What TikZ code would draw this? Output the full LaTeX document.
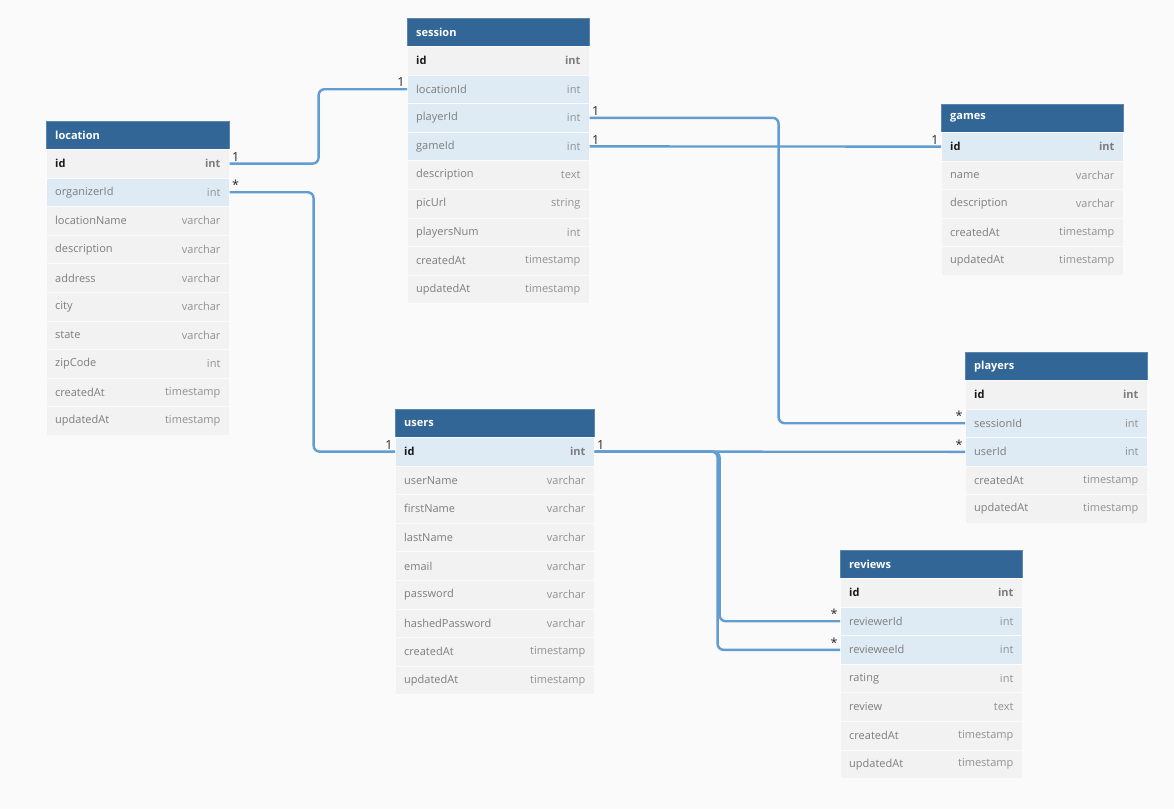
\documentclass[tikz,border=0pt]{standalone}
\usepackage{fontspec}
\setmainfont{Open Sans}
\usetikzlibrary{positioning}

\definecolor{hdblue}{RGB}{50,102,150}
\definecolor{rowgrey}{RGB}{242,242,242}
\definecolor{rowblue}{RGB}{222,235,244}
\definecolor{relblue}{RGB}{97,157,208}
\definecolor{txtgrey}{RGB}{125,125,125}
\definecolor{bggrey}{RGB}{250,250,250}

\tikzset{
  tblhead/.style={fill=hdblue, draw=hdblue!80!white, anchor=north west, minimum height=28pt, inner sep=0pt},
  tbltitle/.style={text=white, font=\bfseries\fontsize{11}{13}\selectfont, inner sep=0pt},
  tblrow/.style={draw=white!70!rowgrey, line width=0.6pt, anchor=north west, minimum height=28.6pt, inner sep=0pt},
  keyname/.style={text=black!90, font=\bfseries\fontsize{11}{13}\selectfont, inner sep=0pt},
  keytype/.style={text=txtgrey, font=\bfseries\fontsize{11}{13}\selectfont, inner sep=0pt},
  fieldname/.style={text=txtgrey, font=\fontsize{11}{13}\selectfont, inner sep=0pt},
  fieldtype/.style={text=txtgrey!85, font=\fontsize{11}{13}\selectfont, inner sep=0pt},
  rel/.style={draw=relblue, line width=2.4pt, rounded corners=6pt},
  card/.style={text=black!85, font=\fontsize{12.5}{14}\selectfont, inner sep=1.2pt}
}

\begin{document}
\begin{tikzpicture}[x=1pt,y=-1pt]
  \fill [bggrey] (0,0) rectangle (1174,809);
  \useasboundingbox (0,0) rectangle (1174,809);

  % session
  \node[tblhead, minimum width=182pt] (session) at (407,18) {};
  \node[tbltitle, right=9pt of session.west] {session};
  \node[tblrow, fill=rowgrey, minimum width=182pt] (session-id) at (407,46) {};
  \node[keyname, right=9pt of session-id.west] {id};
  \node[keytype, left=9pt of session-id.east] {int};
  \foreach \f/\t/\c [count=\i] in {locationId/int/rowblue, playerId/int/rowblue, gameId/int/rowblue,
      description/text/rowgrey, picUrl/string/rowgrey, playersNum/int/rowgrey,
      createdAt/timestamp/rowgrey, updatedAt/timestamp/rowgrey}{
    \node[tblrow, fill=\c, minimum width=182pt] (session-\f) at (407,{46+\i*28.6}) {};
    \node[fieldname, right=9pt of session-\f.west] {\f};
    \node[fieldtype, left=9pt of session-\f.east] {\t};
  }

  % location
  \node[tblhead, minimum width=183pt] (location) at (46,121) {};
  \node[tbltitle, right=9pt of location.west] {location};
  \node[tblrow, fill=rowgrey, minimum width=183pt] (location-id) at (46,149) {};
  \node[keyname, right=9pt of location-id.west] {id};
  \node[keytype, left=9pt of location-id.east] {int};
  \foreach \f/\t/\c [count=\i] in {organizerId/int/rowblue, locationName/varchar/rowgrey,
      description/varchar/rowgrey, address/varchar/rowgrey, city/varchar/rowgrey,
      state/varchar/rowgrey, zipCode/int/rowgrey, createdAt/timestamp/rowgrey,
      updatedAt/timestamp/rowgrey}{
    \node[tblrow, fill=\c, minimum width=183pt] (location-\f) at (46,{149+\i*28.6}) {};
    \node[fieldname, right=9pt of location-\f.west] {\f};
    \node[fieldtype, left=9pt of location-\f.east] {\t};
  }

  % games
  \node[tblhead, minimum width=182pt] (games) at (941,104) {};
  \node[tbltitle, right=9pt of games.west] {games};
  \node[tblrow, fill=rowblue, minimum width=182pt] (games-id) at (941,132) {};
  \node[keyname, right=9pt of games-id.west] {id};
  \node[keytype, left=9pt of games-id.east] {int};
  \foreach \f/\t/\c [count=\i] in {name/varchar/rowgrey, description/varchar/rowgrey,
      createdAt/timestamp/rowgrey, updatedAt/timestamp/rowgrey}{
    \node[tblrow, fill=\c, minimum width=182pt] (games-\f) at (941,{132+\i*28.6}) {};
    \node[fieldname, right=9pt of games-\f.west] {\f};
    \node[fieldtype, left=9pt of games-\f.east] {\t};
  }

  % players
  \node[tblhead, minimum width=182pt] (players) at (965,352) {};
  \node[tbltitle, right=9pt of players.west] {players};
  \node[tblrow, fill=rowgrey, minimum width=182pt] (players-id) at (965,380) {};
  \node[keyname, right=9pt of players-id.west] {id};
  \node[keytype, left=9pt of players-id.east] {int};
  \foreach \f/\t/\c [count=\i] in {sessionId/int/rowblue, userId/int/rowblue,
      createdAt/timestamp/rowgrey, updatedAt/timestamp/rowgrey}{
    \node[tblrow, fill=\c, minimum width=182pt] (players-\f) at (965,{380+\i*28.6}) {};
    \node[fieldname, right=9pt of players-\f.west] {\f};
    \node[fieldtype, left=9pt of players-\f.east] {\t};
  }

  % users
  \node[tblhead, minimum width=199pt] (users) at (395,409) {};
  \node[tbltitle, right=9pt of users.west] {users};
  \node[tblrow, fill=rowblue, minimum width=199pt] (users-id) at (395,437) {};
  \node[keyname, right=9pt of users-id.west] {id};
  \node[keytype, left=9pt of users-id.east] {int};
  \foreach \f/\t/\c [count=\i] in {userName/varchar/rowgrey, firstName/varchar/rowgrey,
      lastName/varchar/rowgrey, email/varchar/rowgrey, password/varchar/rowgrey,
      hashedPassword/varchar/rowgrey, createdAt/timestamp/rowgrey, updatedAt/timestamp/rowgrey}{
    \node[tblrow, fill=\c, minimum width=199pt] (users-\f) at (395,{437+\i*28.6}) {};
    \node[fieldname, right=9pt of users-\f.west] {\f};
    \node[fieldtype, left=9pt of users-\f.east] {\t};
  }

  % reviews
  \node[tblhead, minimum width=182pt] (reviews) at (840,550) {};
  \node[tbltitle, right=9pt of reviews.west] {reviews};
  \node[tblrow, fill=rowgrey, minimum width=182pt] (reviews-id) at (840,578) {};
  \node[keyname, right=9pt of reviews-id.west] {id};
  \node[keytype, left=9pt of reviews-id.east] {int};
  \foreach \f/\t/\c [count=\i] in {reviewerId/int/rowblue, revieweeId/int/rowblue,
      rating/int/rowgrey, review/text/rowgrey, createdAt/timestamp/rowgrey,
      updatedAt/timestamp/rowgrey}{
    \node[tblrow, fill=\c, minimum width=182pt] (reviews-\f) at (840,{578+\i*28.6}) {};
    \node[fieldname, right=9pt of reviews-\f.west] {\f};
    \node[fieldtype, left=9pt of reviews-\f.east] {\t};
  }

  % relations
  \draw[rel] (location-id.east) node[card, anchor=south west] {1} -- ++(89,0)
    |- (session-locationId.west) node[card, anchor=south east] {1};
  \draw[rel] (location-organizerId.east) node[card, anchor=south west] {*} -- ++(84,0)
    |- (users-id.west) node[card, anchor=south east] {1};
  \draw[rel] (session-playerId.east) node[card, anchor=south west] {1} -- ++(189,0)
    |- (players-sessionId.west) node[card, anchor=south east] {*};
  \draw[rel] (session-gameId.east) node[card, anchor=south west] {1}
    -- (games-id.west) node[card, anchor=south east] {1};
  \draw[rel] (users-id.east) node[card, anchor=south west] {1}
    -- (players-userId.west) node[card, anchor=south east] {*};
  \draw[rel] (users-id.east) -- ++(125,0)
    |- (reviews-reviewerId.west) node[card, anchor=south east] {*};
  \draw[rel] (users-id.east) -- ++(123,0)
    |- (reviews-revieweeId.west) node[card, anchor=south east] {*};
\end{tikzpicture}
\end{document}
